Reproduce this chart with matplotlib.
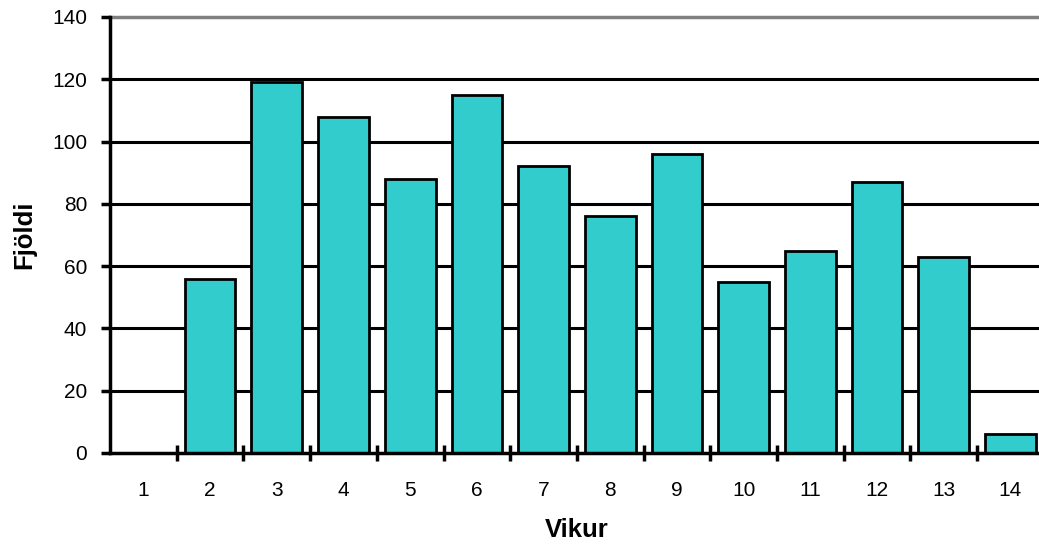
import numpy as np
import matplotlib
matplotlib.use("Agg")
from matplotlib import pyplot as plt
from matplotlib.ticker import FixedLocator, NullFormatter

plt.rcParams['font.family'] = ['Liberation Sans', 'DejaVu Sans']

vikur = ['1', '2', '3', '4', '5', '6', '7', '8', '9', '10', '11', '12', '13', '14']
fjoldi = [0, 56, 119, 108, 88, 115, 92, 76, 96, 55, 65, 87, 63, 6]

fig = plt.figure(figsize=(10.39, 5.44), dpi=100)
# plot area runs a bit past the right edge of the picture, as in the original
ax = fig.add_axes([0.1059, 0.1673, 0.8987, 0.8015])

x = np.arange(len(vikur))
ax.bar(x, fjoldi, width=0.76, color='#33CCCC', edgecolor='black', linewidth=2, zorder=3)

ax.set_xlim(-0.5, len(vikur) - 0.5)
ax.set_ylim(0, 140)
ax.set_yticks(np.arange(0, 141, 20))
for v in range(20, 121, 20):
    ax.axhline(v, color='black', linewidth=2.2, zorder=1)
ax.axhline(140, color='#808080', linewidth=2.5, zorder=1, clip_on=False)

# ticks at category boundaries, labels at centers
ax.xaxis.set_major_locator(FixedLocator(np.arange(0.5, len(vikur) - 1, 1.0)))
ax.xaxis.set_major_formatter(NullFormatter())
ax.xaxis.set_minor_locator(FixedLocator(x))
ax.set_xticklabels(vikur, minor=True)
ax.tick_params(axis='x', which='major', direction='inout', length=12, width=2.5)
ax.tick_params(axis='x', which='minor', length=0, pad=20, labelsize=15)
ax.tick_params(axis='y', direction='out', length=6.5, width=2.5, labelsize=15, pad=10)

for s in ['top', 'right']:
    ax.spines[s].set_visible(False)
ax.spines['left'].set_linewidth(2.5)
ax.spines['bottom'].set_linewidth(2.5)
ax.spines['bottom'].set_zorder(4)

ax.set_xlabel('Vikur', fontsize=18.5, fontweight='bold', labelpad=13)
ax.set_ylabel('Fjöldi', fontsize=18.5, fontweight='bold', labelpad=11)

fig.savefig('out.png', dpi=100)
